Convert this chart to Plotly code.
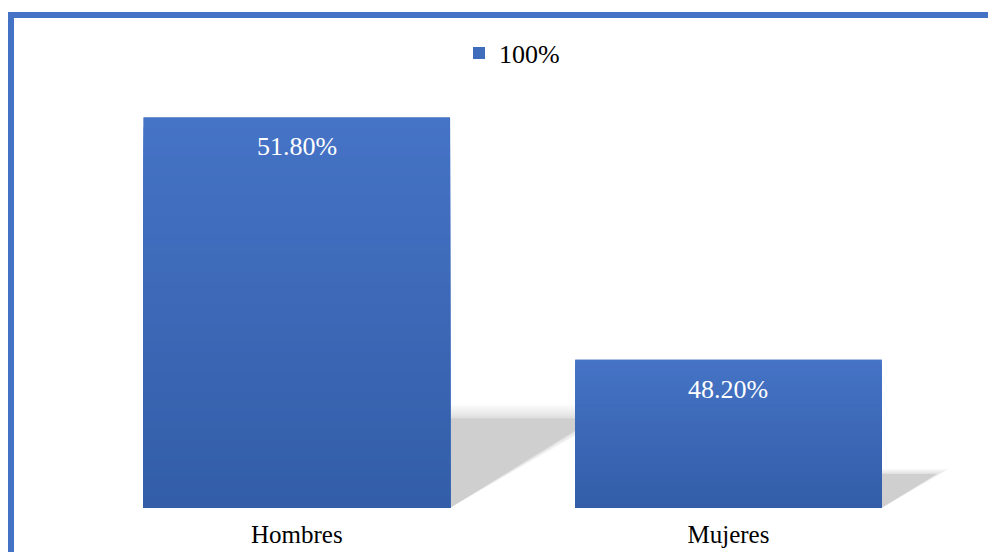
import plotly.graph_objects as go

# Share of respondents by sex
categories = ["Hombres", "Mujeres"]
values = [51.8, 48.2]
series_name = "100%"

# Value axis window
axis_min, axis_max = 46.0, 52.0

# Figure geometry (pixels)
W, H = 988, 552
M_L, M_R, M_T, M_B = 81, 38, 104, 44
PLOT_W = W - M_L - M_R
PLOT_H = H - M_T - M_B

BAR_WIDTH = 0.71
TOP_RGB = (0x45, 0x73, 0xC5)
BOTTOM_RGB = (0x33, 0x5D, 0xA8)
FONT = "Liberation Serif, Times New Roman, DejaVu Serif, serif"
FONT_SIZE = 26


def px_to_paper_x(px):
    return (px - M_L) / PLOT_W


def px_to_paper_y(py):
    return (H - M_B - py) / PLOT_H


def mix(c1, c2, t):
    return "rgb({},{},{})".format(*[round(a + (b - a) * t) for a, b in zip(c1, c2)])


fig = go.Figure(
    go.Bar(
        x=categories,
        y=values,
        name=series_name,
        width=BAR_WIDTH,
        marker=dict(color=mix(TOP_RGB, BOTTOM_RGB, 0.3), line=dict(width=0)),
        showlegend=True,
        hoverinfo="x+y",
    )
)

shapes = []
half = BAR_WIDTH / 2

# Soft perspective shadow cast to the right of each bar
for i, v in enumerate(values):
    h = v - axis_min
    sh = 0.23 * h          # shadow height in data units
    sd = 0.058 * h         # horizontal reach in category units
    xr = i + half
    layers = [(1.0 + 0.025 * j, 0.02) for j in range(6, 0, -1)] + [(1.0, 0.08)]
    for grow, alpha in layers:
        top = axis_min + sh * grow
        reach = xr + sd * (1 + (grow - 1) * 1.6)
        path = f"M {xr},{axis_min} L {xr},{top} L {reach},{top} Z"
        shapes.append(dict(type="path", path=path, xref="x", yref="y",
                           fillcolor=f"rgba(0,0,0,{alpha})",
                           line=dict(width=0), layer="below"))

# Vertical gradient over each bar: nested rectangles, tallest first
N = 40
for i, v in enumerate(values):
    h = v - axis_min
    for k in range(N):
        t = k / (N - 1)
        top = v - h * k / N
        shapes.append(dict(type="rect", xref="x", yref="y",
                           x0=i - half, x1=i + half, y0=axis_min, y1=top,
                           fillcolor=mix(TOP_RGB, BOTTOM_RGB, t),
                           line=dict(width=0), layer="above"))

# Frame lines along the top and left edges
BORDER = "#4472C4"
shapes.append(dict(type="line", xref="paper", yref="paper",
                   x0=px_to_paper_x(8), x1=px_to_paper_x(W + 10),
                   y0=px_to_paper_y(15), y1=px_to_paper_y(15),
                   line=dict(color=BORDER, width=6), layer="above"))
shapes.append(dict(type="line", xref="paper", yref="paper",
                   x0=px_to_paper_x(11), x1=px_to_paper_x(11),
                   y0=px_to_paper_y(12), y1=px_to_paper_y(H + 10),
                   line=dict(color=BORDER, width=6), layer="above"))

# Value labels near the top of each bar
annotations = [
    dict(x=c, y=v, xref="x", yref="y", text=f"{v:.2f}%", showarrow=False,
         yanchor="top", yshift=-13,
         font=dict(family=FONT, size=FONT_SIZE, color="white"))
    for c, v in zip(categories, values)
]

fig.update_layout(
    width=W, height=H,
    margin=dict(l=M_L, r=M_R, t=M_T, b=M_B, pad=0, autoexpand=False),
    paper_bgcolor="white",
    plot_bgcolor="white",
    font=dict(family=FONT, size=FONT_SIZE, color="black"),
    shapes=shapes,
    annotations=annotations,
    showlegend=True,
    legend=dict(orientation="h", x=px_to_paper_x(512), xanchor="center",
                y=px_to_paper_y(53), yanchor="middle",
                font=dict(family=FONT, size=FONT_SIZE, color="black"),
                itemwidth=30, bgcolor="rgba(0,0,0,0)"),
    xaxis=dict(showline=False, showgrid=False, zeroline=False, ticks="",
               automargin=False,
               ticklabelstandoff=9, tickfont=dict(family=FONT, size=25)),
    yaxis=dict(range=[axis_min, axis_max], visible=False, automargin=False,
               showgrid=False, zeroline=False),
)

fig.write_html("out.html")
